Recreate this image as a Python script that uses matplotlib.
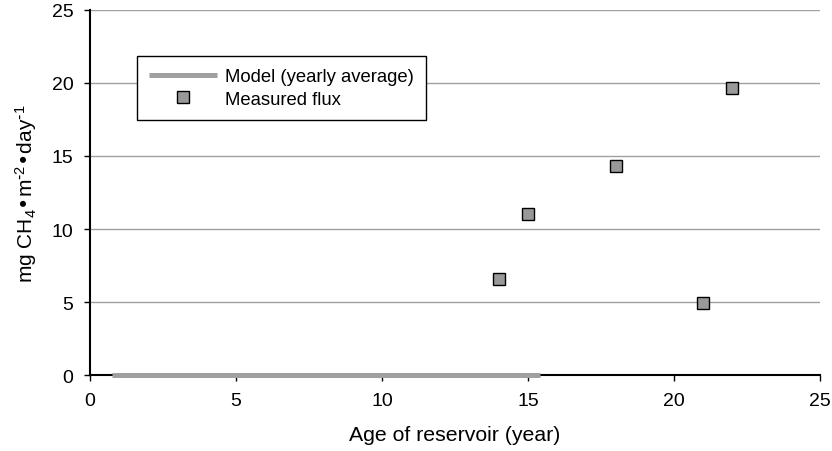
import matplotlib.pyplot as plt

plt.rcParams['font.family'] = ['Liberation Sans', 'DejaVu Sans']
plt.rcParams['mathtext.default'] = 'regular'

# model (yearly average) line
model_age = [0.75, 15.4]
model_flux = [0, 0]

# measured flux
age = [14, 15, 18, 21, 22]
flux = [6.6, 11.0, 14.3, 4.9, 19.65]

fig = plt.figure(figsize=(8.32, 4.52), dpi=100)
ax = fig.add_axes([0.1082, 0.1681, 0.8774, 0.8076])

ax.plot(model_age, model_flux, color='#a0a0a0', lw=3.6, solid_capstyle='butt',
        label='Model (yearly average)', zorder=3, clip_on=False)
ax.plot(age, flux, 's', color='#999999', mec='black', mew=1, ms=8,
        label='Measured flux', zorder=4)

ax.set_xlim(0, 25)
ax.set_ylim(0, 25)
ax.set_xticks(range(0, 26, 5))
ax.set_yticks(range(0, 26, 5))
ax.grid(True, axis='y', color='#a0a0a0', lw=1)
ax.set_axisbelow(True)
for s in ['top', 'right']:
    ax.spines[s].set_visible(False)
for s in ['left', 'bottom']:
    ax.spines[s].set_linewidth(1.5)
ax.tick_params(labelsize=14, length=4, width=1)
ax.tick_params(axis='x', pad=8)
ax.tick_params(axis='y', pad=8)

ax.set_xlabel('Age of reservoir (year)', fontsize=15.3, labelpad=12)
ax.set_ylabel(r'mg CH$_4$•m$^{\text{-}2}$•day$^{\text{-}1}$', fontsize=15,
              labelpad=9)

leg = ax.legend(loc='upper left', bbox_to_anchor=(0.064, 0.874), fontsize=13.3,
                frameon=True, fancybox=False, edgecolor='black', framealpha=1,
                borderpad=0.65, handlelength=3.7, handletextpad=0.45,
                labelspacing=0.3, borderaxespad=0)
leg.get_frame().set_linewidth(1)

plt.savefig('out.png', dpi=100)
plt.close()
